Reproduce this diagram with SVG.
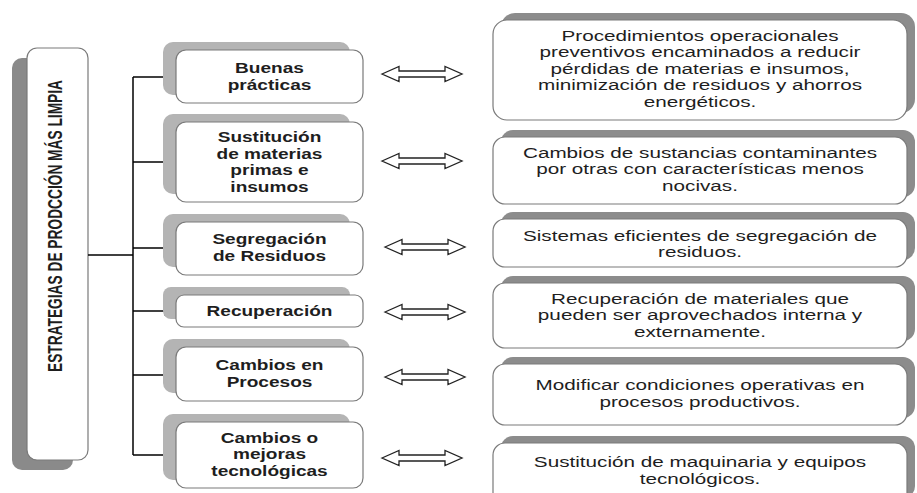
<svg xmlns="http://www.w3.org/2000/svg" width="917" height="493" viewBox="0 0 917 493">
<style>
  .bg { fill: #ffffff; }
  .box { fill: #ffffff; stroke: #7a7a7a; stroke-width: 1.2; }
  .shL { fill: #8a8a8a; }
  .shM { fill: #b4b4b4; }
  .shR { fill: #8c8c8c; }
  .mid { font-family: "Liberation Sans", Arial, sans-serif; font-weight: bold; font-size: 14px; fill: #1e1e1e; text-anchor: middle; }
  .rt { font-family: "Liberation Sans", Arial, sans-serif; font-size: 15px; fill: #1e1e1e; text-anchor: middle; }
  .vt { font-family: "Liberation Sans", Arial, sans-serif; font-weight: bold; font-size: 15.5px; fill: #1e1e1e; text-anchor: middle; }
  .conn { fill: none; stroke: #000000; stroke-width: 1.5; }
  .dbl { fill: #ffffff; stroke: #222222; stroke-width: 1.3; stroke-linejoin: miter; }
</style>
<defs>
  <marker id="ah" markerUnits="userSpaceOnUse" markerWidth="13" markerHeight="10" refX="12" refY="4.5" orient="auto">
    <path d="M0,0 L12,4.5 L0,9 Z" fill="#000000"/>
  </marker>
  <path id="dblArrow" d="M-40,0 L-23,-7.5 L-23,-3 L23,-3 L23,-7.5 L40,0 L23,7.5 L23,3 L-23,3 L-23,7.5 Z"/>
</defs>
<rect class="bg" x="0" y="0" width="917" height="493"/>

<!-- Root node -->
<g id="root">
  <rect class="shL" x="12" y="58" width="61" height="412" rx="10"/>
  <rect class="box" x="27" y="48" width="61" height="412" rx="10"/>
  <text class="vt" transform="translate(54.5,226) scale(1.35,1) rotate(-90)" x="0" y="5.5" textLength="292" lengthAdjust="spacingAndGlyphs">ESTRATEGIAS DE PRODCCIÓN MÁS LIMPIA</text>
</g>

<!-- Connectors -->
<g id="connectors">
  <path class="conn" d="M88,255 H133"/>
  <path class="conn" d="M133,77 V455"/>
  <path class="conn" d="M133,77 H176" marker-end="url(#ah)"/>
  <path class="conn" d="M133,162 H176" marker-end="url(#ah)"/>
  <path class="conn" d="M133,248 H176" marker-end="url(#ah)"/>
  <path class="conn" d="M133,311 H176" marker-end="url(#ah)"/>
  <path class="conn" d="M133,375 H176" marker-end="url(#ah)"/>
  <path class="conn" d="M133,455 H176" marker-end="url(#ah)"/>
  <use href="#dblArrow" class="dbl" transform="translate(422,74)"/>
  <use href="#dblArrow" class="dbl" transform="translate(422,161)"/>
  <use href="#dblArrow" class="dbl" transform="translate(425,247)"/>
  <use href="#dblArrow" class="dbl" transform="translate(425,312)"/>
  <use href="#dblArrow" class="dbl" transform="translate(425,377)"/>
  <use href="#dblArrow" class="dbl" transform="translate(422,458)"/>
</g>

<!-- Middle nodes -->
<g id="buenas">
  <rect class="shM" x="163" y="42" width="187" height="53" rx="10"/>
  <rect class="box" x="176" y="50" width="187" height="53" rx="10"/>
  <text class="mid" transform="matrix(1.36 0 0 1 269.5 0)"><tspan x="0" y="73">Buenas</tspan><tspan x="0" y="90">prácticas</tspan></text>
</g>
<g id="sustitucion">
  <rect class="shM" x="163" y="114" width="187" height="80" rx="10"/>
  <rect class="box" x="176" y="122" width="187" height="80" rx="10"/>
  <text class="mid" transform="matrix(1.36 0 0 1 269.5 0)"><tspan x="0" y="142.5">Sustitución</tspan><tspan x="0" y="159">de materias</tspan><tspan x="0" y="175.5">primas e</tspan><tspan x="0" y="192">insumos</tspan></text>
</g>
<g id="segregacion">
  <rect class="shM" x="163" y="214" width="187" height="53" rx="10"/>
  <rect class="box" x="176" y="222" width="187" height="53" rx="10"/>
  <text class="mid" transform="matrix(1.36 0 0 1 269.5 0)"><tspan x="0" y="244">Segregación</tspan><tspan x="0" y="261">de Residuos</tspan></text>
</g>
<g id="recuperacion">
  <rect class="shM" x="163" y="287" width="187" height="32" rx="8"/>
  <rect class="box" x="176" y="295" width="187" height="32" rx="8"/>
  <text class="mid" transform="matrix(1.36 0 0 1 269.5 0)"><tspan x="0" y="316">Recuperación</tspan></text>
</g>
<g id="procesos">
  <rect class="shM" x="163" y="339" width="187" height="54" rx="10"/>
  <rect class="box" x="176" y="347" width="187" height="54" rx="10"/>
  <text class="mid" transform="matrix(1.36 0 0 1 269.5 0)"><tspan x="0" y="370">Cambios en</tspan><tspan x="0" y="387">Procesos</tspan></text>
</g>
<g id="tecnologicas">
  <rect class="shM" x="163" y="414" width="187" height="66" rx="10"/>
  <rect class="box" x="176" y="422" width="187" height="66" rx="10"/>
  <text class="mid" transform="matrix(1.36 0 0 1 269.5 0)"><tspan x="0" y="443">Cambios o</tspan><tspan x="0" y="459.5">mejoras</tspan><tspan x="0" y="476">tecnológicas</tspan></text>
</g>

<!-- Right nodes -->
<g id="desc1">
  <rect class="shR" x="501" y="13" width="414" height="100" rx="14"/>
  <rect class="box" x="493" y="20" width="414" height="100" rx="14"/>
  <text class="rt" transform="matrix(1.38 0 0 1 700 0)"><tspan x="0" y="41">Procedimientos operacionales</tspan><tspan x="0" y="57.5">preventivos encaminados a reducir</tspan><tspan x="0" y="74">pérdidas de materias e insumos,</tspan><tspan x="0" y="90.5">minimización de residuos y ahorros</tspan><tspan x="0" y="107">energéticos.</tspan></text>
</g>
<g id="desc2">
  <rect class="shR" x="501" y="130" width="414" height="67" rx="12"/>
  <rect class="box" x="493" y="137" width="414" height="67" rx="12"/>
  <text class="rt" transform="matrix(1.38 0 0 1 700 0)"><tspan x="0" y="158">Cambios de sustancias contaminantes</tspan><tspan x="0" y="174.5">por otras con características menos</tspan><tspan x="0" y="191">nocivas.</tspan></text>
</g>
<g id="desc3">
  <rect class="shR" x="501" y="212" width="414" height="48" rx="12"/>
  <rect class="box" x="493" y="219" width="414" height="48" rx="12"/>
  <text class="rt" transform="matrix(1.38 0 0 1 700 0)"><tspan x="0" y="241">Sistemas eficientes de segregación de</tspan><tspan x="0" y="257.5">residuos.</tspan></text>
</g>
<g id="desc4">
  <rect class="shR" x="501" y="276" width="414" height="65" rx="12"/>
  <rect class="box" x="493" y="283" width="414" height="65" rx="12"/>
  <text class="rt" transform="matrix(1.38 0 0 1 700 0)"><tspan x="0" y="304">Recuperación de materiales que</tspan><tspan x="0" y="320.5">pueden ser aprovechados interna y</tspan><tspan x="0" y="337">externamente.</tspan></text>
</g>
<g id="desc5">
  <rect class="shR" x="501" y="357" width="414" height="61" rx="12"/>
  <rect class="box" x="493" y="364" width="414" height="61" rx="12"/>
  <text class="rt" transform="matrix(1.38 0 0 1 700 0)"><tspan x="0" y="390">Modificar condiciones operativas en</tspan><tspan x="0" y="407.5">procesos productivos.</tspan></text>
</g>
<g id="desc6">
  <rect class="shR" x="501" y="436" width="414" height="62" rx="12"/>
  <rect class="box" x="493" y="443" width="414" height="62" rx="12"/>
  <text class="rt" transform="matrix(1.38 0 0 1 700 0)"><tspan x="0" y="467">Sustitución de maquinaria y equipos</tspan><tspan x="0" y="484">tecnológicos.</tspan></text>
</g>
</svg>
